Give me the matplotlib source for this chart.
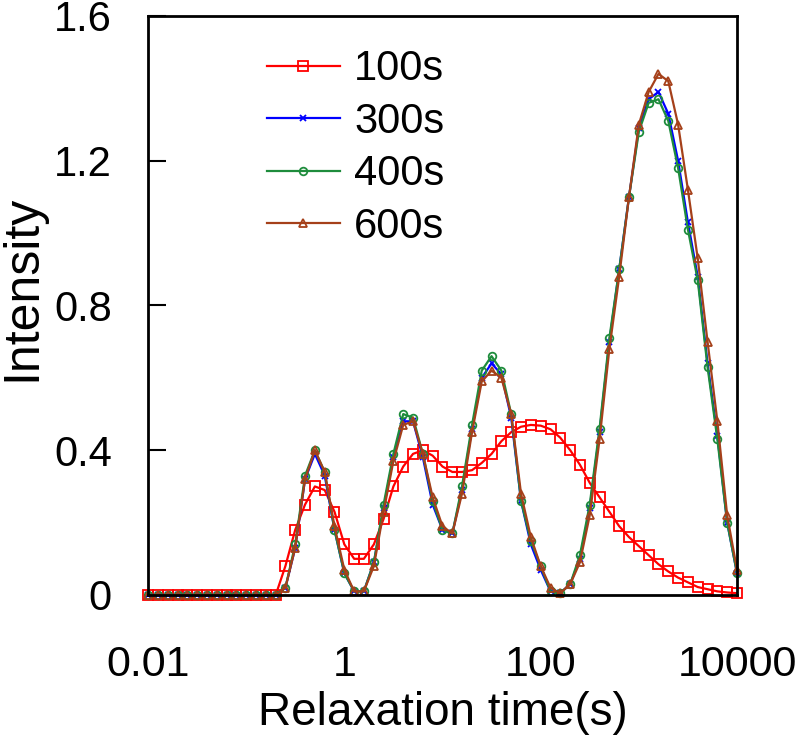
import matplotlib
matplotlib.use("Agg")
import matplotlib.pyplot as plt

plt.rcParams['font.family'] = ['Liberation Sans', 'DejaVu Sans']

# Relaxation time grid (s), 10 points per decade from 0.01 to 10000
relax_time = [
    0.01, 0.0126, 0.0158, 0.02, 0.0251, 0.0316, 0.0398, 0.0501, 0.0631, 0.0794,
    0.1, 0.126, 0.158, 0.2, 0.251, 0.316, 0.398, 0.501, 0.631, 0.794,
    1.0, 1.26, 1.58, 2.0, 2.51, 3.16, 3.98, 5.01, 6.31, 7.94,
    10.0, 12.6, 15.8, 20.0, 25.1, 31.6, 39.8, 50.1, 63.1, 79.4,
    100.0, 126.0, 158.0, 200.0, 251.0, 316.0, 398.0, 501.0, 631.0, 794.0,
    1000.0, 1259.0, 1585.0, 1995.0, 2512.0, 3162.0, 3981.0, 5012.0, 6310.0, 7943.0,
    10000.0,
]

zeros14 = [0.0] * 14

s100 = zeros14 + [
    0.08, 0.18, 0.25, 0.30, 0.29, 0.23, 0.14, 0.10, 0.10, 0.14,
    0.21, 0.30, 0.355, 0.39, 0.40, 0.385, 0.355, 0.34, 0.34, 0.345,
    0.365, 0.39, 0.425, 0.45, 0.465, 0.47, 0.468, 0.458, 0.435, 0.40,
    0.36, 0.31, 0.27, 0.23, 0.19, 0.16, 0.135, 0.11, 0.085, 0.065,
    0.048, 0.035, 0.022, 0.016, 0.01, 0.007, 0.005,
]

s300 = zeros14 + [
    0.02, 0.13, 0.32, 0.39, 0.33, 0.18, 0.06, 0.01, 0.01, 0.09,
    0.24, 0.38, 0.48, 0.48, 0.38, 0.25, 0.18, 0.17, 0.29, 0.46,
    0.60, 0.64, 0.61, 0.49, 0.26, 0.14, 0.07, 0.01, 0.005, 0.03,
    0.10, 0.24, 0.45, 0.70, 0.90, 1.10, 1.29, 1.37, 1.39, 1.33,
    1.20, 1.03, 0.88, 0.64, 0.44, 0.20, 0.06,
]

s400 = zeros14 + [
    0.02, 0.14, 0.33, 0.40, 0.34, 0.18, 0.06, 0.01, 0.01, 0.09,
    0.25, 0.39, 0.50, 0.49, 0.39, 0.26, 0.18, 0.17, 0.30, 0.47,
    0.62, 0.66, 0.62, 0.50, 0.26, 0.15, 0.08, 0.01, 0.005, 0.03,
    0.11, 0.25, 0.46, 0.71, 0.90, 1.10, 1.28, 1.36, 1.37, 1.31,
    1.18, 1.01, 0.87, 0.63, 0.43, 0.20, 0.06,
]

s600 = zeros14 + [
    0.02, 0.13, 0.32, 0.40, 0.34, 0.19, 0.07, 0.01, 0.01, 0.08,
    0.23, 0.37, 0.47, 0.48, 0.39, 0.27, 0.19, 0.17, 0.28, 0.45,
    0.59, 0.62, 0.60, 0.50, 0.28, 0.16, 0.08, 0.02, 0.005, 0.03,
    0.09, 0.22, 0.43, 0.68, 0.88, 1.10, 1.30, 1.39, 1.44, 1.42,
    1.30, 1.12, 0.93, 0.70, 0.48, 0.22, 0.07,
]

labels = ['100s', '300s', '400s', '600s']
colors = ['#FF0000', '#0000FF', '#1E8C3C', '#A5401A']
markers = ['s', 'x', 'o', '^']
msizes = [7.0, 5.0, 5.5, 6.0]

fig = plt.figure(figsize=(8.0, 7.49), dpi=100)
ax = fig.add_axes([148 / 800, 1 - 595 / 749, (737 - 148) / 800, (595 - 16) / 749])

for ys, lab, c, m, ms in zip([s100, s300, s400, s600], labels, colors, markers, msizes):
    ax.plot(relax_time, ys, color=c, lw=1.6, marker=m, ms=ms,
            mfc='none', mec=c, mew=1.3, label=lab, clip_on=False)

ax.set_xscale('log')
ax.set_xlim(0.01, 10000)
ax.set_ylim(0, 1.6)
ax.set_xticks([0.01, 1, 100, 10000])
ax.set_xticklabels(['0.01', '1', '100', '10000'])
ax.xaxis.set_minor_locator(matplotlib.ticker.NullLocator())
ax.set_yticks([0, 0.4, 0.8, 1.2, 1.6])
ax.set_yticklabels(['0', '0.4', '0.8', '1.2', '1.6'])

ax.tick_params(axis='x', length=0, pad=36, labelsize=31)
ax.tick_params(axis='y', direction='in', length=13, width=1.5, pad=26, labelsize=30)

for sp in ax.spines.values():
    sp.set_linewidth(2.0)
    sp.set_color('black')

ax.set_xlabel('Relaxation time(s)', fontsize=33, labelpad=4)
ax.set_ylabel('Intensity', fontsize=36)
ax.yaxis.set_label_coords(-0.175, 0.53)

leg = ax.legend(loc='upper left', bbox_to_anchor=(0.152, 0.993), frameon=False,
                fontsize=30, handlelength=1.75, handletextpad=0.35,
                labelspacing=0.3, borderpad=0.2)

fig.savefig('out.png', dpi=100)
